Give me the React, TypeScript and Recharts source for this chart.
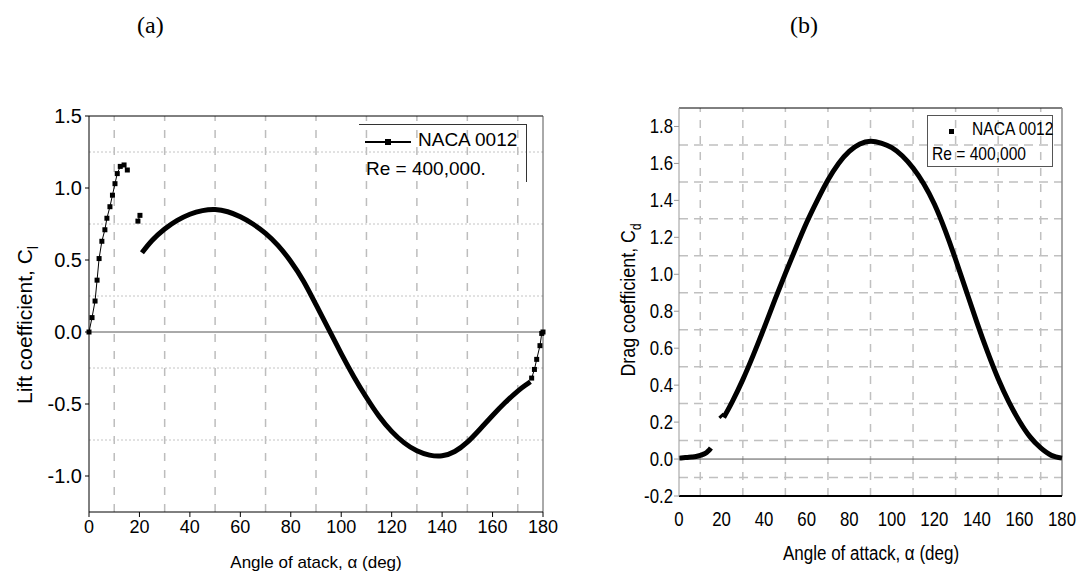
import { LineChart, Line, XAxis, YAxis, ReferenceLine } from 'recharts';

type Pt = { a: number; c: number };

// angle of attack (deg) vs coefficient, NACA 0012, Re = 400,000
const angleTicks = [0, 20, 40, 60, 80, 100, 120, 140, 160, 180];
const oddTens = [10, 30, 50, 70, 90, 110, 130, 150, 170];

// (a) lift
const liftTicks = [-1, -0.5, 0, 0.5, 1, 1.5];
const liftMinor = [1.25, 0.75, 0.25, -0.25, -0.75];

const liftPreStall: Pt[] = [
  { a: 0, c: 0 }, { a: 1.2, c: 0.1 }, { a: 2.4, c: 0.215 }, { a: 3.2, c: 0.36 },
  { a: 4, c: 0.51 }, { a: 5.1, c: 0.63 }, { a: 6.3, c: 0.71 }, { a: 7.1, c: 0.79 },
  { a: 8.3, c: 0.87 }, { a: 9.3, c: 0.95 }, { a: 10.3, c: 1.03 }, { a: 11.2, c: 1.1 },
  { a: 12.4, c: 1.15 }, { a: 13.9, c: 1.16 }, { a: 15.2, c: 1.125 },
];
const liftBlip: Pt[] = [{ a: 19.4, c: 0.77 }, { a: 20.2, c: 0.81 }];
const liftMain: Pt[] = [
  { a: 21, c: 0.55 }, { a: 25, c: 0.635 }, { a: 30, c: 0.715 }, { a: 35, c: 0.775 },
  { a: 40, c: 0.818 }, { a: 45, c: 0.843 }, { a: 50, c: 0.85 }, { a: 55, c: 0.835 },
  { a: 60, c: 0.8 }, { a: 65, c: 0.75 }, { a: 70, c: 0.685 }, { a: 75, c: 0.6 },
  { a: 80, c: 0.49 }, { a: 85, c: 0.355 }, { a: 90, c: 0.19 }, { a: 95, c: 0.02 },
  { a: 100, c: -0.15 }, { a: 105, c: -0.31 }, { a: 110, c: -0.455 }, { a: 115, c: -0.585 },
  { a: 120, c: -0.69 }, { a: 125, c: -0.77 }, { a: 130, c: -0.825 }, { a: 135, c: -0.855 },
  { a: 140, c: -0.86 }, { a: 145, c: -0.83 }, { a: 150, c: -0.765 }, { a: 155, c: -0.675 },
  { a: 160, c: -0.58 }, { a: 165, c: -0.49 }, { a: 170, c: -0.41 }, { a: 173, c: -0.37 },
  { a: 175, c: -0.345 },
];
const liftTail: Pt[] = [
  { a: 175.5, c: -0.32 }, { a: 176.6, c: -0.26 }, { a: 177.5, c: -0.19 },
  { a: 178.8, c: -0.095 }, { a: 179.5, c: -0.01 }, { a: 180, c: 0 },
];

// (b) drag
const dragTicks = [-0.2, 0, 0.2, 0.4, 0.6, 0.8, 1.0, 1.2, 1.4, 1.6, 1.8];
const dragMinor = [-0.1, 0.1, 0.3, 0.5, 0.7, 0.9, 1.1, 1.3, 1.5, 1.7];

const dragPreStall: Pt[] = [
  { a: 0, c: 0.005 }, { a: 2, c: 0.007 }, { a: 4, c: 0.009 }, { a: 6, c: 0.011 },
  { a: 8, c: 0.014 }, { a: 10, c: 0.02 }, { a: 11, c: 0.024 }, { a: 12, c: 0.029 },
  { a: 13, c: 0.036 }, { a: 14, c: 0.046 }, { a: 15, c: 0.06 },
];
const dragBlip: Pt[] = [{ a: 19.5, c: 0.24 }, { a: 20.5, c: 0.228 }];
const dragMain: Pt[] = [
  { a: 21, c: 0.225 }, { a: 25, c: 0.31 }, { a: 30, c: 0.43 }, { a: 35, c: 0.565 },
  { a: 40, c: 0.71 }, { a: 45, c: 0.86 }, { a: 50, c: 1.005 }, { a: 55, c: 1.145 },
  { a: 60, c: 1.28 }, { a: 65, c: 1.4 }, { a: 70, c: 1.51 }, { a: 75, c: 1.6 },
  { a: 80, c: 1.665 }, { a: 85, c: 1.705 }, { a: 90, c: 1.72 }, { a: 95, c: 1.71 },
  { a: 100, c: 1.685 }, { a: 105, c: 1.64 }, { a: 110, c: 1.575 }, { a: 115, c: 1.49 },
  { a: 120, c: 1.38 }, { a: 125, c: 1.24 }, { a: 130, c: 1.08 }, { a: 135, c: 0.91 },
  { a: 140, c: 0.74 }, { a: 145, c: 0.58 }, { a: 150, c: 0.435 }, { a: 155, c: 0.31 },
  { a: 160, c: 0.205 }, { a: 165, c: 0.12 }, { a: 170, c: 0.06 }, { a: 175, c: 0.02 },
  { a: 180, c: 0.005 },
];

const sans = '"Liberation Sans", Arial, sans-serif';
const serif = '"Liberation Serif", "Times New Roman", serif';

const square = (s: number) => (p: any) => (
  <rect key={`sq${p.index}`} x={p.cx - s / 2} y={p.cy - s / 2} width={s} height={s} fill="#000" />
);

// condensed tick text, the right panel uses a narrow face
const narrowTick = (anchor: 'end' | 'middle', dy: number, fmt: (v: number) => string) => (p: any) => (
  <g key={`t${p.index}`} transform={`translate(${p.x},${p.y})`}>
    <text
      transform="scale(0.8,1)"
      textAnchor={anchor}
      dy={dy}
      fill="#000"
      fontSize={21}
      fontFamily={sans}
    >
      {fmt(p.payload.value)}
    </text>
  </g>
);

function LiftChart() {
  return (
    <LineChart width={560} height={576} margin={{ top: 116, right: 17, bottom: 34, left: 0 }}>
      {oddTens.map((v) => (
        <ReferenceLine key={`v${v}`} x={v} stroke="#bdbdbd" strokeWidth={1.5} strokeDasharray="8 9" />
      ))}
      {liftMinor.map((v) => (
        <ReferenceLine key={`h${v}`} y={v} stroke="#c4c4c4" strokeDasharray="2 2" />
      ))}
      <ReferenceLine y={0} stroke="#555" />
      <ReferenceLine y={1.5} stroke="#000" />
      <ReferenceLine x={180} stroke="#555" />
      <XAxis
        type="number"
        dataKey="a"
        domain={[0, 180]}
        ticks={angleTicks}
        height={30}
        stroke="#000"
        tickSize={5}
        tickMargin={3}
        tick={{ fill: '#000', fontSize: 18, fontFamily: sans }}
      />
      <YAxis
        type="number"
        domain={[-1.25, 1.5]}
        ticks={liftTicks}
        width={89}
        stroke="#000"
        tickSize={4}
        tickMargin={3}
        tickFormatter={(v: number) => v.toFixed(1)}
        tick={{ fill: '#000', fontSize: 20, fontFamily: sans }}
      />
      <Line data={liftPreStall} dataKey="c" name="pre" type="linear" stroke="#000" strokeWidth={1} dot={square(5)} isAnimationActive={false} />
      <Line data={liftBlip} dataKey="c" name="blip" type="linear" stroke="#000" strokeWidth={1} dot={square(5)} isAnimationActive={false} />
      <Line data={liftMain} dataKey="c" name="main" type="natural" stroke="#000" strokeWidth={5} dot={false} isAnimationActive={false} />
      <Line data={liftTail} dataKey="c" name="tail" type="linear" stroke="#000" strokeWidth={1} dot={square(5)} isAnimationActive={false} />
    </LineChart>
  );
}

function DragChart() {
  return (
    <LineChart width={500} height={576} margin={{ top: 108, right: 18, bottom: 50, left: 0 }}>
      {oddTens.map((v) => (
        <ReferenceLine key={`v${v}`} x={v} stroke="#c0c0c0" strokeWidth={1.5} strokeDasharray="8 8" />
      ))}
      {dragMinor.map((v) => (
        <ReferenceLine key={`h${v}`} y={v} stroke="#c0c0c0" strokeWidth={1.5} strokeDasharray="9 6" />
      ))}
      <ReferenceLine y={0} stroke="#555" />
      <ReferenceLine y={1.9} stroke="#000" />
      <ReferenceLine x={180} stroke="#888" strokeWidth={1.5} />
      <XAxis
        type="number"
        dataKey="a"
        domain={[0, 180]}
        ticks={angleTicks}
        height={30}
        stroke="#000"
        strokeWidth={2}
        tickLine={false}
        tickMargin={4}
        tick={narrowTick('middle', 20, (v) => String(v))}
      />
      <YAxis
        type="number"
        domain={[-0.2, 1.9]}
        ticks={dragTicks}
        width={99}
        stroke="#999"
        tickSize={5}
        tickMargin={1}
        tick={narrowTick('end', 7, (v) => v.toFixed(1))}
      />
      <Line data={dragPreStall} dataKey="c" name="pre" type="monotone" stroke="#000" strokeWidth={5} dot={false} isAnimationActive={false} />
      <Line data={dragBlip} dataKey="c" name="blip" type="linear" stroke="#000" strokeWidth={6} dot={false} isAnimationActive={false} />
      <Line data={dragMain} dataKey="c" name="main" type="natural" stroke="#000" strokeWidth={5} dot={false} isAnimationActive={false} />
    </LineChart>
  );
}

const condensed: React.CSSProperties = { transform: 'scaleX(0.82)', transformOrigin: 'left center', whiteSpace: 'nowrap' };

export default function App() {
  const abs = (left: number, top: number): React.CSSProperties => ({ position: 'absolute', left, top });
  return (
    <div style={{ position: 'absolute', left: 0, top: 0, width: 1085, height: 576, background: '#fff', overflow: 'hidden' }}>
      <div style={{ ...abs(137, 12), fontFamily: serif, fontSize: 24 }}>(a)</div>
      <div style={{ ...abs(790, 12), fontFamily: serif, fontSize: 24 }}>(b)</div>

      <div style={abs(0, 0)}>
        <LiftChart />
      </div>
      <div style={abs(580, 0)}>
        <DragChart />
      </div>

      {/* legend (a) */}
      <div
        style={{
          ...abs(359, 124),
          width: 167,
          height: 57,
          borderTop: '1px solid #333',
          borderRight: '1px solid #333',
          fontFamily: sans,
          fontSize: 19,
          color: '#000',
        }}
      >
        <svg width={50} height={12} style={{ position: 'absolute', left: 6, top: 11 }}>
          <line x1={0} y1={6} x2={46} y2={6} stroke="#000" strokeWidth={2} />
          <rect x={20} y={3} width={6} height={6} fill="#000" />
        </svg>
        <div style={{ position: 'absolute', left: 59, top: 4, whiteSpace: 'nowrap' }}>NACA 0012</div>
        <div style={{ position: 'absolute', left: 7, top: 33, whiteSpace: 'nowrap' }}>Re = 400,000.</div>
      </div>

      {/* legend (b) */}
      <div
        style={{
          ...abs(927, 115),
          width: 126,
          height: 52,
          border: '1px solid #555',
          boxSizing: 'border-box',
          fontFamily: sans,
          fontSize: 19,
          color: '#000',
        }}
      >
        <div style={{ position: 'absolute', left: 21, top: 13, width: 5, height: 5, background: '#000' }} />
        <div style={{ position: 'absolute', left: 44, top: 2, ...condensed }}>NACA 0012</div>
        <div style={{ position: 'absolute', left: 4, top: 27, ...condensed }}>Re = 400,000</div>
      </div>

      {/* axis titles (a) */}
      <div
        style={{
          position: 'absolute',
          left: 316,
          top: 563,
          transform: 'translate(-50%, -50%)',
          fontFamily: sans,
          fontSize: 17,
          whiteSpace: 'nowrap',
        }}
      >
        Angle of atack, α (deg)
      </div>
      <div
        style={{
          position: 'absolute',
          left: 27,
          top: 325,
          transform: 'translate(-50%, -50%) rotate(-90deg)',
          fontFamily: sans,
          fontSize: 21,
          whiteSpace: 'nowrap',
        }}
      >
        Lift coefficient, C<sub style={{ fontSize: 14 }}>l</sub>
      </div>

      {/* axis titles (b) */}
      <div
        style={{
          position: 'absolute',
          left: 871,
          top: 553,
          transform: 'translate(-50%, -50%) scaleX(0.85)',
          fontFamily: sans,
          fontSize: 20,
          whiteSpace: 'nowrap',
        }}
      >
        Angle of attack, α (deg)
      </div>
      <div
        style={{
          position: 'absolute',
          left: 630,
          top: 300,
          transform: 'translate(-50%, -50%) rotate(-90deg) scaleX(0.85)',
          fontFamily: sans,
          fontSize: 21,
          whiteSpace: 'nowrap',
        }}
      >
        Drag coefficient, C<sub style={{ fontSize: 14 }}>d</sub>
      </div>
    </div>
  );
}
